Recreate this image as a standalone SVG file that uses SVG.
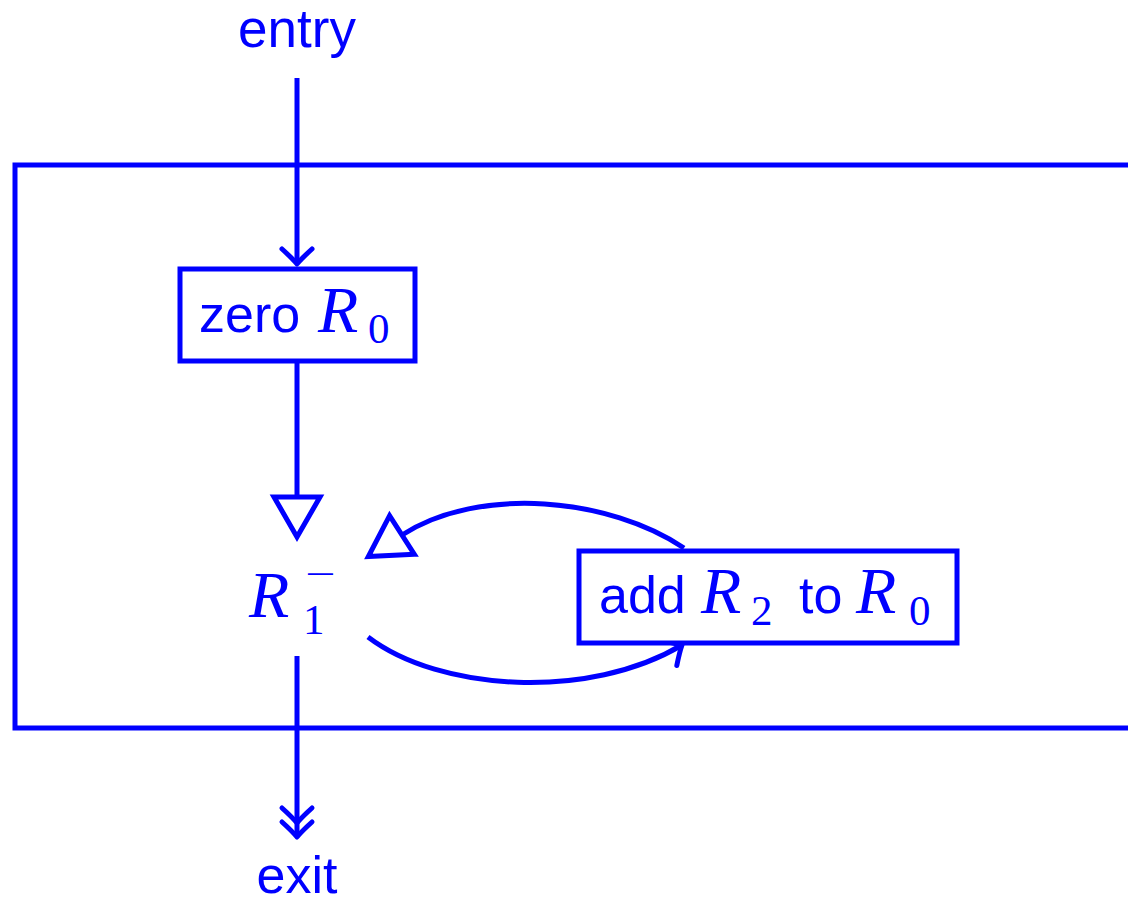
<svg xmlns="http://www.w3.org/2000/svg" width="1128" height="904" viewBox="0 0 1128 904">
<style>
.ln{fill:none;stroke:#0000ff;stroke-width:5}
.bx{fill:#fff;stroke:#0000ff;stroke-width:5}
.t{font-family:"Liberation Sans",Arial,sans-serif;font-size:52px;fill:#0000ff}
.m{font-family:"Liberation Serif","Times New Roman",serif;font-style:italic;font-size:66px;fill:#0000ff}
.s{font-family:"Liberation Serif","Times New Roman",serif;font-size:43px;fill:#0000ff}
</style>
<defs>
<marker id="to" markerUnits="userSpaceOnUse" markerWidth="40" markerHeight="40" viewBox="-20 -20 40 40" refX="0" refY="0" orient="auto" overflow="visible">
<path d="M-15,-15 Q-6,-5 0,0 Q-6,5 -15,15" fill="none" stroke="#0000ff" stroke-width="5" stroke-linecap="round" stroke-linejoin="round"/>
</marker>
<marker id="tri" markerUnits="userSpaceOnUse" markerWidth="60" markerHeight="60" viewBox="-10 -30 60 60" refX="0" refY="0" orient="auto" overflow="visible">
<path d="M0,-23 L40,0 L0,23 Z" fill="#fff" stroke="#0000ff" stroke-width="5" stroke-linejoin="miter"/>
</marker>
</defs>
<g id="frame"><path class="ln" d="M1128,165 H15 V728 H1128"/></g>
<g id="connectors">
<path class="ln" d="M297,78 V264" marker-end="url(#to)"/>
<path class="ln" d="M297,361 V497" marker-end="url(#tri)"/>
<path class="ln" d="M297,656 V823" marker-end="url(#to)"/>
<path class="ln" d="M297,820 V837" marker-end="url(#to)"/>
<path class="ln" d="M684,548 C610,498 480,485 402,535" marker-end="url(#tri)"/>
<path class="ln" d="M368,637 C440,692 590,700 682,645" marker-end="url(#to)"/>
</g>
<g id="entry"><text class="t" x="297" y="47" text-anchor="middle" style="font-size:53px">entry</text></g>
<g id="zero">
<rect class="bx" x="180" y="269" width="235" height="92"/>
<text class="t" x="199" y="332">zero</text>
<text class="m" x="318" y="332">R</text>
<text class="s" x="368" y="343">0</text>
</g>
<g id="r1">
<text class="m" x="249" y="617">R</text>
<text class="s" x="303" y="634">1</text>
<text class="s" transform="translate(305,586) scale(1.5,1)" x="0" y="0" style="font-size:36px">−</text>
</g>
<g id="add">
<rect class="bx" x="579" y="551" width="378" height="92"/>
<text class="t" x="599" y="613">add</text>
<text class="m" x="701" y="613">R</text>
<text class="s" x="751" y="625">2</text>
<text class="t" x="799" y="613">to</text>
<text class="m" x="856" y="613">R</text>
<text class="s" x="909" y="625">0</text>
</g>
<g id="exit"><text class="t" x="297" y="893" text-anchor="middle">exit</text></g>
</svg>
